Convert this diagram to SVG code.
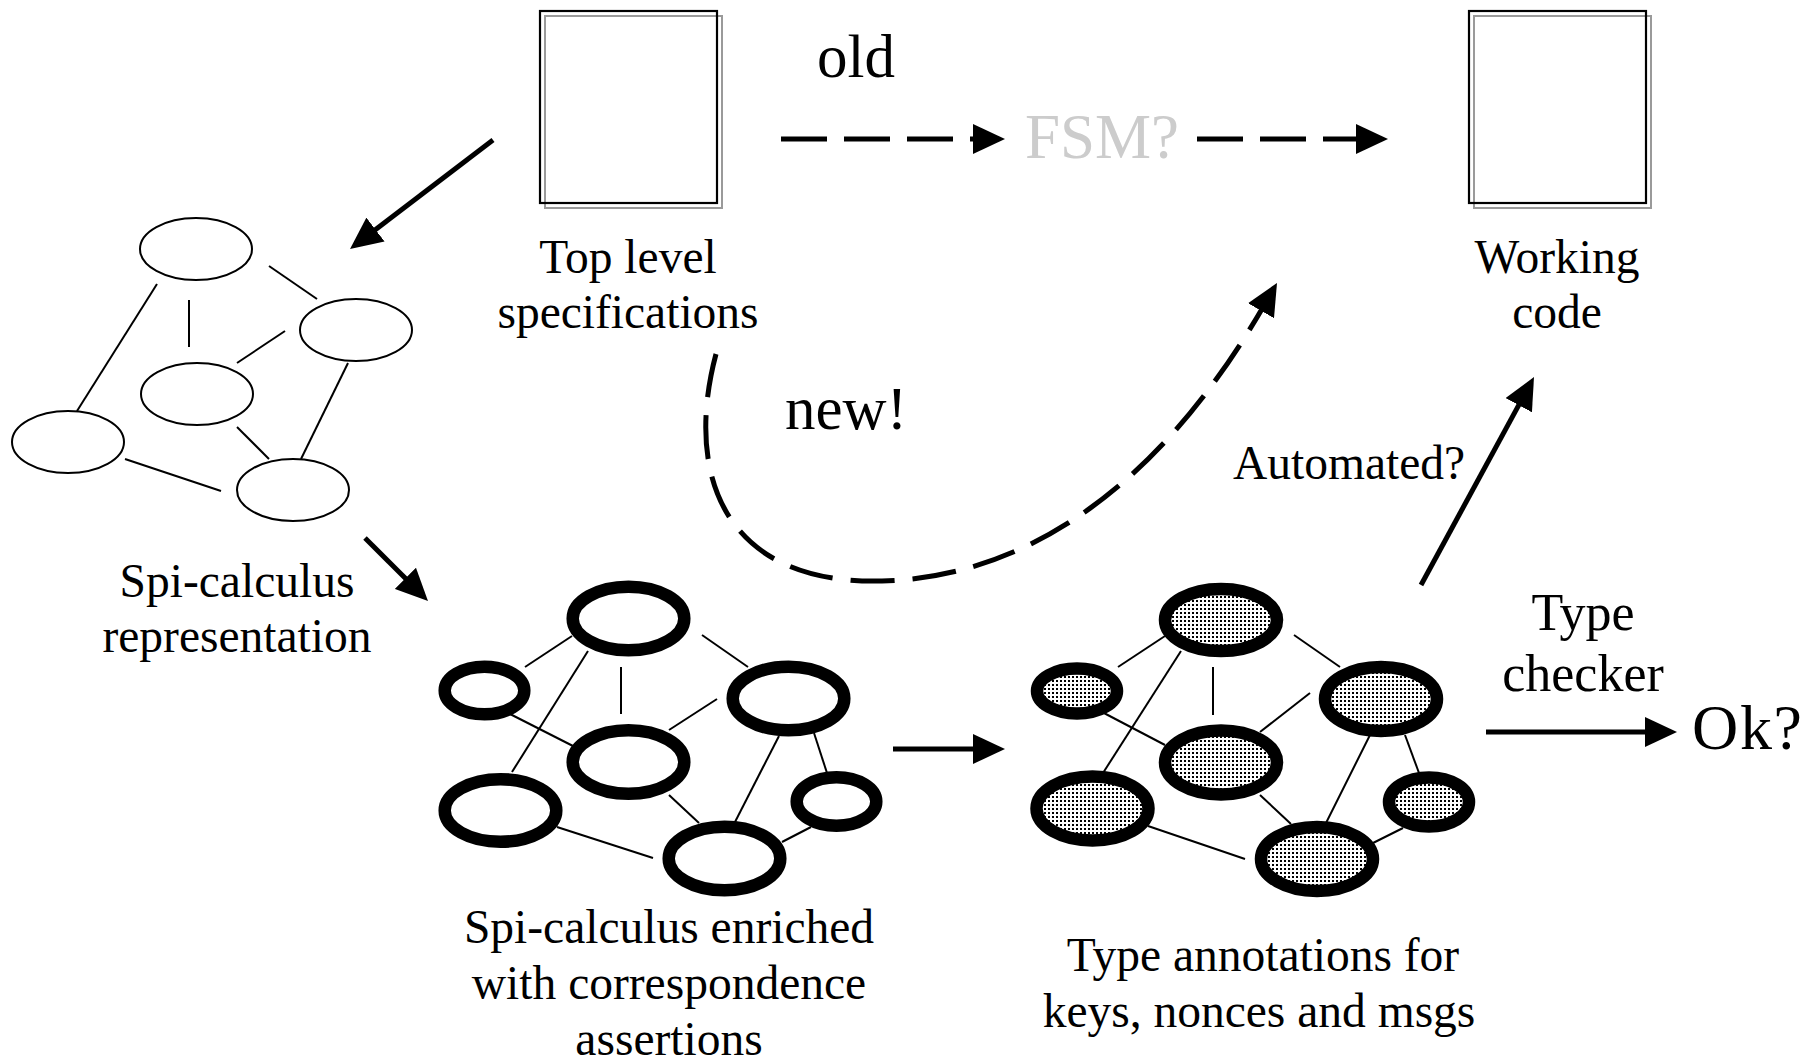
<svg xmlns="http://www.w3.org/2000/svg" width="1815" height="1063" viewBox="0 0 1815 1063">
  <style>
    text { font-family: "Liberation Serif", "Times New Roman", serif; fill: #000; }
    .lbl { font-size: 47.5px; text-anchor: middle; }
    .big { font-size: 61px; }
    .box-back { fill: none; stroke: #9a9a9a; stroke-width: 2; }
    .box-front { fill: none; stroke: #000; stroke-width: 2.2; }
    .thin { fill: #fff; stroke: #000; stroke-width: 2; }
    .thick { fill: #fff; stroke: #000; stroke-width: 12.5; }
    .typed { fill: url(#dots); stroke: #000; stroke-width: 12.5; }
    .edge { stroke: #000; stroke-width: 2; fill: none; }
    .arrow { stroke: #000; stroke-width: 5; fill: none; marker-end: url(#head); }
    .dash-straight { stroke-dasharray: 46 17; }
    .dash-curve { stroke-dasharray: 44 18; }
  </style>
  <defs>
    <marker id="head" markerUnits="userSpaceOnUse" markerWidth="32" markerHeight="30" viewBox="0 0 32 30" refX="6" refY="15" orient="auto">
      <path d="M0,0 L32,15 L0,30 Z" fill="#000"/>
    </marker>
    <pattern id="dots" width="4" height="4" patternUnits="userSpaceOnUse">
      <rect width="4" height="4" fill="#fff"/>
      <rect width="2" height="2" fill="#000"/>
    </pattern>
  </defs>
  <rect width="1815" height="1063" fill="#fff"/>

  <!-- document icons -->
  <g id="top-spec">
    <rect class="box-back" x="545" y="16" width="177" height="192"/>
    <rect class="box-front" x="540" y="11" width="177" height="192"/>
    <text class="lbl" x="628" y="273">Top level</text>
    <text class="lbl" x="628" y="328">specifications</text>
  </g>
  <g id="working-code">
    <rect class="box-back" x="1474" y="16" width="177" height="192"/>
    <rect class="box-front" x="1469" y="11" width="177" height="192"/>
    <text class="lbl" x="1557" y="273">Working</text>
    <text class="lbl" x="1557" y="328">code</text>
  </g>

  <!-- plain spi-calculus graph -->
  <g id="spi-graph">
    <g class="edge">
      <line x1="157" y1="284" x2="77" y2="411"/>
      <line x1="189" y1="300" x2="189" y2="347"/>
      <line x1="269" y1="266" x2="317" y2="299"/>
      <line x1="285" y1="331" x2="237" y2="363"/>
      <line x1="348" y1="363" x2="301" y2="459"/>
      <line x1="237" y1="427" x2="269" y2="459"/>
      <line x1="125" y1="459" x2="221" y2="491"/>
    </g>
    <ellipse class="thin" cx="196" cy="249" rx="56" ry="31"/>
    <ellipse class="thin" cx="356" cy="330" rx="56" ry="31"/>
    <ellipse class="thin" cx="197" cy="394" rx="56" ry="31"/>
    <ellipse class="thin" cx="68" cy="442" rx="56" ry="31"/>
    <ellipse class="thin" cx="293" cy="490" rx="56" ry="31"/>
    <text class="lbl" x="237" y="597">Spi-calculus</text>
    <text class="lbl" x="237" y="652">representation</text>
  </g>

  <!-- graph with correspondence assertions -->
  <g id="enriched-graph">
    <g class="edge">
      <line x1="572" y1="636" x2="525" y2="667"/>
      <line x1="588" y1="651" x2="512" y2="772"/>
      <line x1="621" y1="667" x2="621" y2="714"/>
      <line x1="702" y1="635" x2="748" y2="667"/>
      <line x1="510" y1="714" x2="573" y2="746"/>
      <line x1="717" y1="699" x2="669" y2="730"/>
      <line x1="779" y1="736" x2="735" y2="822"/>
      <line x1="814" y1="733" x2="827" y2="773"/>
      <line x1="669" y1="795" x2="699" y2="823"/>
      <line x1="557" y1="827" x2="653" y2="858"/>
      <line x1="811" y1="827" x2="782" y2="842"/>
    </g>
    <ellipse class="thick" cx="628.5" cy="618.5" rx="55.8" ry="31.8"/>
    <ellipse class="thick" cx="484.5" cy="690.5" rx="39.8" ry="23.8"/>
    <ellipse class="thick" cx="788.5" cy="698.5" rx="55.8" ry="31.8"/>
    <ellipse class="thick" cx="628.5" cy="762" rx="55.8" ry="31.8"/>
    <ellipse class="thick" cx="500.5" cy="810.5" rx="55.8" ry="31.3"/>
    <ellipse class="thick" cx="836.5" cy="801.5" rx="39.8" ry="24.3"/>
    <ellipse class="thick" cx="724.5" cy="858.5" rx="55.8" ry="31.8"/>
    <text class="lbl" x="669" y="943">Spi-calculus enriched</text>
    <text class="lbl" x="669" y="999">with correspondence</text>
    <text class="lbl" x="669" y="1055">assertions</text>
  </g>

  <!-- graph with type annotations -->
  <g id="typed-graph">
    <g class="edge">
      <line x1="1165" y1="636" x2="1118" y2="667"/>
      <line x1="1181" y1="651" x2="1103" y2="773"/>
      <line x1="1213" y1="667" x2="1213" y2="715"/>
      <line x1="1294" y1="635" x2="1340" y2="667"/>
      <line x1="1102" y1="712" x2="1165" y2="745"/>
      <line x1="1310" y1="693" x2="1260" y2="732"/>
      <line x1="1370" y1="735" x2="1326" y2="823"/>
      <line x1="1405" y1="735" x2="1419" y2="773"/>
      <line x1="1260" y1="795" x2="1291" y2="824"/>
      <line x1="1148" y1="826" x2="1245" y2="859"/>
      <line x1="1403" y1="828" x2="1373" y2="843"/>
    </g>
    <ellipse class="typed" cx="1221" cy="620" rx="56" ry="31"/>
    <ellipse class="typed" cx="1077" cy="691" rx="40" ry="22.5"/>
    <ellipse class="typed" cx="1381" cy="699" rx="56" ry="32"/>
    <ellipse class="typed" cx="1221" cy="762.5" rx="56" ry="32"/>
    <ellipse class="typed" cx="1092.5" cy="808.5" rx="56" ry="32"/>
    <ellipse class="typed" cx="1429" cy="802" rx="40" ry="24.5"/>
    <ellipse class="typed" cx="1317" cy="859" rx="56" ry="32"/>
    <text class="lbl" x="1263" y="971">Type annotations for</text>
    <text class="lbl" x="1259" y="1027">keys, nonces and msgs</text>
  </g>

  <g id="fsm">
    <text x="1025" y="158" style="font-size:63px;fill:#cccccc">FSM?</text>
  </g>
  <g id="ok">
    <text x="1692" y="749" style="font-size:64px" textLength="110">Ok?</text>
  </g>

  <!-- connectors -->
  <g id="connectors">
    <line class="arrow dash-straight" x1="781" y1="139" x2="979" y2="139"/>
    <line class="arrow dash-straight" x1="1197" y1="139" x2="1362" y2="139"/>
    <line class="arrow" x1="493" y1="140" x2="370.7" y2="233.2"/>
    <line class="arrow" x1="365" y1="538" x2="409.6" y2="582.6"/>
    <line class="arrow" x1="893" y1="749" x2="979" y2="749"/>
    <line class="arrow" x1="1421" y1="585" x2="1521.6" y2="399.9"/>
    <line class="arrow" x1="1486" y1="732" x2="1651" y2="732"/>
    <path class="arrow dash-curve" d="M716,354 C685,470 720,585 882,581 C1010,578 1149,504.5 1264,305.5"/>
    <text class="big" x="817" y="77">old</text>
    <text class="big" x="785" y="429">new!</text>
    <text class="lbl" x="1233" y="479" style="text-anchor:start">Automated?</text>
    <text class="lbl" x="1583" y="630" style="font-size:52px">Type</text>
    <text class="lbl" x="1583" y="691" style="font-size:52px">checker</text>
  </g>
</svg>
